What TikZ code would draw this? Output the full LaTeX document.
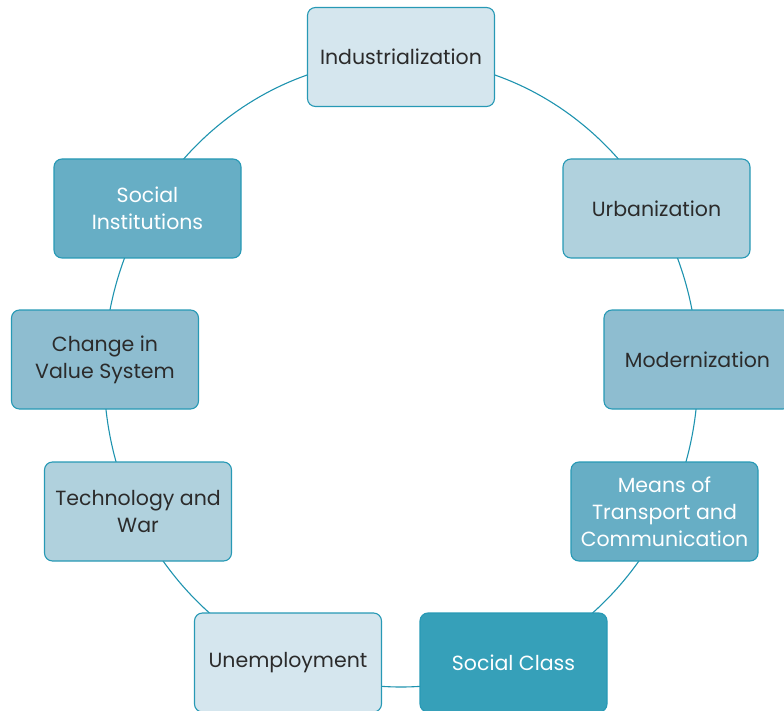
\documentclass[tikz,border=0pt]{standalone}
\usepackage{fontspec}
\setmainfont{Poppins}
\definecolor{ringc}{HTML}{1E93AF}
\definecolor{edgec}{HTML}{2799B5}
\definecolor{fillA}{HTML}{D5E6EE}
\definecolor{fillB}{HTML}{B0D1DD}
\definecolor{fillC}{HTML}{8EBDD0}
\definecolor{fillD}{HTML}{67AEC5}
\definecolor{fillE}{HTML}{36A0B9}
\definecolor{txtdark}{HTML}{2B2B2B}
\tikzset{
  cbox/.style={draw=edgec, line width=1.1pt, rounded corners=8pt,
    minimum width=187pt, minimum height=99pt, align=center,
    font=\fontsize{20.5}{27}\selectfont, inner sep=2pt},
  darkt/.style={text=txtdark},
  lightt/.style={text=white},
}
\begin{document}
\begin{tikzpicture}[x=1pt,y=-1pt]
\useasboundingbox (0,0) rectangle (784,711);
\draw[ringc, line width=1.1pt] (401,373) ellipse [x radius=297pt, y radius=314pt];
\node[cbox, fill=fillA, darkt] (ind) at (401,57) {Industrialization};
\node[cbox, fill=fillB, darkt] (urb) at (656.5,208.5) {Urbanization};
\node[cbox, fill=fillC, darkt] (mod) at (697.5,359.5) {Modernization};
\node[cbox, fill=fillD, lightt] (mtc) at (664.5,511.5) {Means of\\Transport and\\Communication};
\node[cbox, fill=fillE, lightt] (scl) at (513.5,662.5) {Social Class};
\node[cbox, fill=fillA, darkt] (une) at (288,662.5) {Unemployment};
\node[cbox, fill=fillB, darkt] (tec) at (138,511.5) {Technology and\\War};
\node[cbox, fill=fillC, darkt] (cvs) at (105,359.5) {Change in\\Value System};
\node[cbox, fill=fillD, lightt] (sin) at (147.5,208.5) {Social\\Institutions};
\end{tikzpicture}
\end{document}
